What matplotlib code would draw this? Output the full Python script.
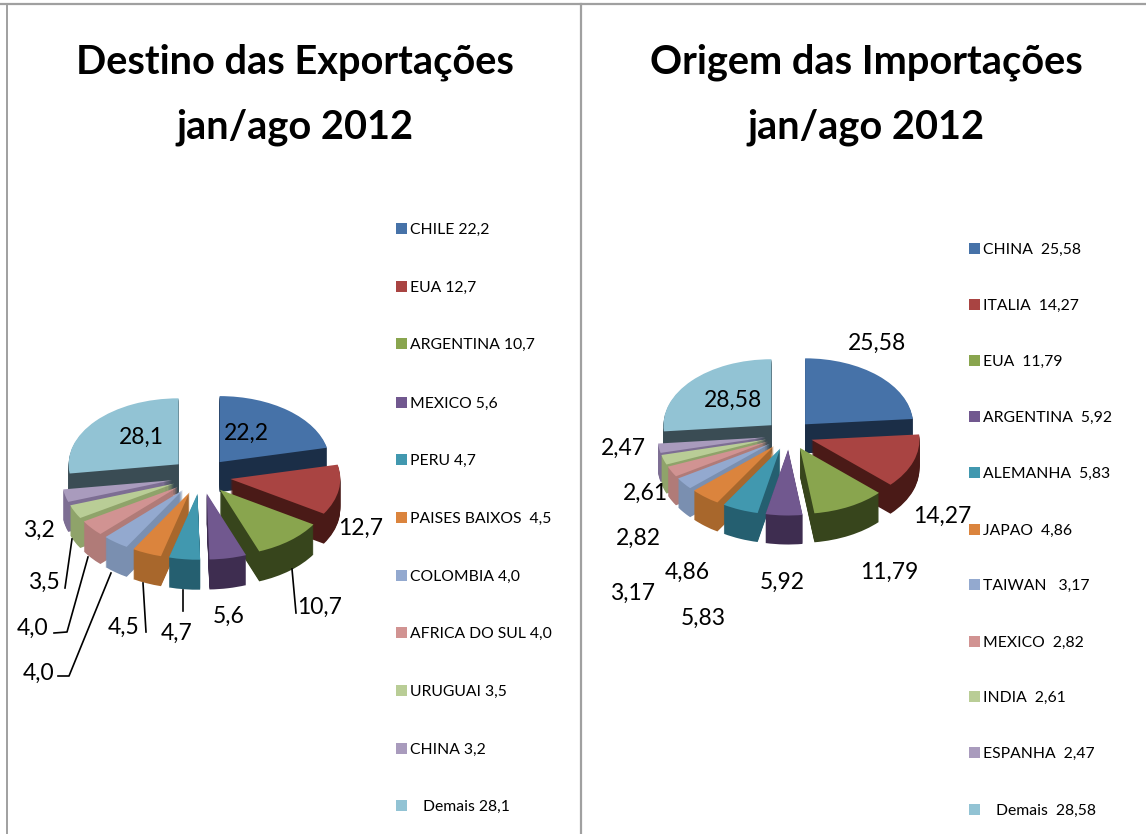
import matplotlib
matplotlib.use('Agg')
import matplotlib.pyplot as plt
from matplotlib.patches import Rectangle

plt.rcParams['font.family'] = ['Lato', 'DejaVu Sans']

W, H = 1146, 834

exp_names = ['CHILE 22,2', 'EUA 12,7', 'ARGENTINA 10,7', 'MEXICO 5,6', 'PERU 4,7', 'PAISES BAIXOS  4,5',
             'COLOMBIA 4,0', 'AFRICA DO SUL 4,0', 'URUGUAI 3,5', 'CHINA 3,2', 'Demais 28,1']
exp_values = [22.2, 12.7, 10.7, 5.6, 4.7, 4.5, 4.0, 4.0, 3.5, 3.2, 28.1]
exp_labels = ['22,2', '12,7', '10,7', '5,6', '4,7', '4,5', '4,0', '4,0', '3,5', '3,2', '28,1']

imp_names = ['CHINA  25,58', 'ITALIA  14,27', 'EUA  11,79', 'ARGENTINA  5,92', 'ALEMANHA  5,83', 'JAPAO  4,86',
             'TAIWAN   3,17', 'MEXICO  2,82', 'INDIA  2,61', 'ESPANHA  2,47', 'Demais  28,58']
imp_values = [25.58, 14.27, 11.79, 5.92, 5.83, 4.86, 3.17, 2.82, 2.61, 2.47, 28.58]
imp_labels = ['25,58', '14,27', '11,79', '5,92', '5,83', '4,86', '3,17', '2,82', '2,61', '2,47', '28,58']

top_colors = ['#4672a8', '#a94442', '#89a54e', '#71588f', '#4198af', '#db843d',
              '#93a9cf', '#d19392', '#b9cd96', '#a99bbd', '#92c3d4']
side_colors = ['#1b2e47', '#4a1a17', '#37451c', '#3e2d50', '#255f70', '#a8672c',
               '#7a8fb0', '#b07b78', '#8fa36a', '#7d6e93', '#3a4c54']

exp_label_pos = [(246, 433), (361, 528), (320, 607), (229, 616), (177, 633), (124, 627),
                 (39, 673), (33, 628), (44, 582), (39, 530), (141, 437)]
imp_label_pos = [(877, 343), (942, 516), (889, 572), (782, 582), (703, 618), (687, 572),
                 (633, 593), (638, 538), (645, 493), (623, 448), (733, 400)]

exp_leaders = [[(292, 569), (296, 613)], [(183, 590), (183, 611)], [(143, 583), (146, 632)],
               [(72, 539), (65, 588)], [(88, 557), (67, 632), (54, 633)], [(111, 573), (69, 676), (58, 676)]]

fig = plt.figure(figsize=(W / 100, H / 100), dpi=100, facecolor='white')


def pie3d(values, cx, cy, rx, ry, depth, explode):
    # squashed axes, the pie is stacked from the bottom up to get the walls
    hw, hh = 220, 170
    ax = fig.add_axes([(cx - hw) / W, 1 - (cy + hh) / H, 2 * hw / W, 2 * hh / H])
    for k in range(depth, -1, -1):
        cols = top_colors if k == 0 else side_colors
        ax.pie(values, colors=cols, startangle=90, counterclock=False, radius=1,
               explode=[explode] * len(values), center=(0, -k / ry),
               wedgeprops={'linewidth': 0.6 if k else 0, 'edgecolor': 'none'})
    ax.set_aspect('auto')
    ax.set_xlim(-hw / rx, hw / rx)
    ax.set_ylim(-hh / ry, hh / ry)
    ax.axis('off')


pie3d(exp_values, 201, 476, 110, 66, 30, 0.27)
pie3d(imp_values, 789, 435, 108, 66, 29, 0.22)

# overlay in pixels for the texts and lines
ov = fig.add_axes([0, 0, 1, 1], zorder=5)
ov.set_xlim(0, W)
ov.set_ylim(H, 0)
ov.axis('off')
ov.patch.set_alpha(0)

ov.plot([0, W], [4, 4], color='#a0a0a0', lw=1.6)
ov.plot([581, 581], [4, H], color='#a0a0a0', lw=1.6)
ov.plot([6.5, 6.5], [4, H], color='#a0a0a0', lw=1.4)

for cx, first in [(295, 'Destino das Exportações'), (866, 'Origem das Importações')]:
    ov.text(cx, 62, first, fontsize=28.6, fontweight='bold', ha='center', va='center', color='black')
    ov.text(cx, 127, 'jan/ago 2012', fontsize=28.6, fontweight='bold', ha='center', va='center', color='black')

exp_y = [229, 287, 344, 403, 460, 518, 576, 633, 691, 749, 806]
imp_y = [249, 305, 361, 417, 473, 530, 585, 642, 697, 753, 810]
for names, ys, mx in [(exp_names, exp_y, 396), (imp_names, imp_y, 969)]:
    for i, name in enumerate(names):
        ov.add_patch(Rectangle((mx, ys[i] - 6), 11, 11, facecolor=top_colors[i], edgecolor='none'))
        tx = mx + 14 if i < 10 else mx + 27
        ov.text(tx, ys[i] + 1, name, fontsize=11.3, ha='left', va='center', color='black')

for labels, pos in [(exp_labels, exp_label_pos), (imp_labels, imp_label_pos)]:
    for lab, (x, y) in zip(labels, pos):
        ov.text(x, y, lab, fontsize=16.5, ha='center', va='center', color='black')

for line in exp_leaders:
    ov.plot([p[0] for p in line], [p[1] for p in line], color='black', lw=1.2)

fig.savefig('out.png', dpi=100)
